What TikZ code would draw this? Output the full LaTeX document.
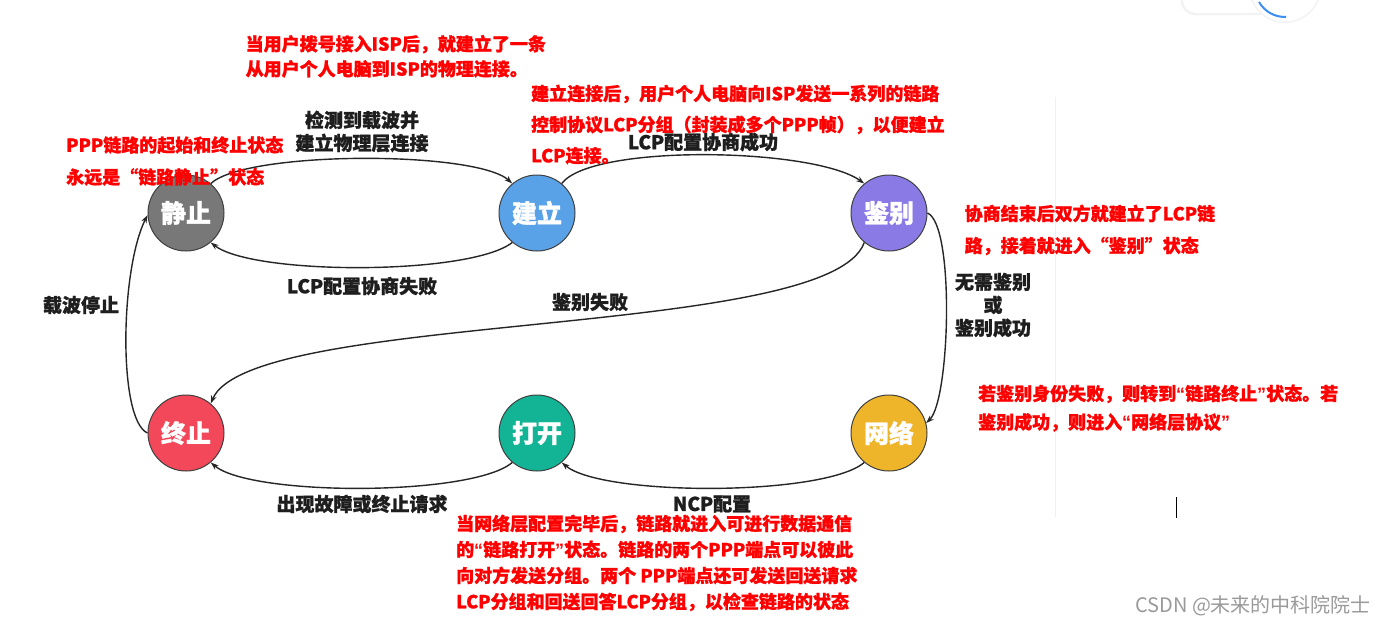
\documentclass[tikz,border=0pt]{standalone}
\usepackage{fontspec}
\setmainfont{Noto Sans CJK SC}[BoldFeatures={FakeBold=1.2}]
\newfontfamily\narrowq{Liberation Sans}
\newcommand{\myLq}{{\narrowq “}}
\newcommand{\myRq}{{\narrowq ”}}
\usetikzlibrary{arrows.meta}
\definecolor{cGray}{HTML}{787878}
\definecolor{cBlue}{HTML}{5AA2E8}
\definecolor{cPurple}{HTML}{8A7AE6}
\definecolor{cRed}{HTML}{F2485A}
\definecolor{cTeal}{HTML}{13B495}
\definecolor{cYellow}{HTML}{EFB52A}
\definecolor{annot}{HTML}{FF0000}
\definecolor{lbl}{HTML}{1E1E1E}
\definecolor{wmark}{HTML}{9A9A9A}
\definecolor{uiblue}{HTML}{3D8EF0}
\begin{document}
\begin{tikzpicture}[x=1pt,y=-1pt,
  state/.style={circle,minimum size=76pt,inner sep=0,draw=black!75,line width=1pt,
    text=white,font=\fontsize{25}{30}\selectfont\bfseries},
  trans/.style={draw=black!85,line width=1.4pt,-{Stealth[length=8pt,width=5.5pt]}},
  lab/.style={text=lbl,font=\fontsize{19}{23}\selectfont\bfseries,align=center,inner sep=0},
  note/.style={text=annot,font=\fontsize{18}{#1}\selectfont\bfseries,align=left,inner sep=0,anchor=north west},
]
\useasboundingbox (0,0) rectangle (1385,625);
\fill[white] (0,0) rectangle (1385,625);

% decorative UI remnants
\draw[black!6,line width=0.8pt] (1055,97) -- (1055,517);
\fill[black!5,rounded corners=14pt] (1181,-20) rectangle (1302,15);
\fill[white,rounded corners=13pt] (1183,-20) rectangle (1300,13);
\fill[black!5] (1285,-13) circle (36);
\fill[white] (1285,-13) circle (34.5);
\draw[uiblue,line width=2pt] (1285,-13) ++(150:30) arc[start angle=150,end angle=88,radius=30];
\draw[black,line width=0.8pt] (1176,497) -- (1176,518);

% states
\node[state,fill=cGray]   (jz) at (186,213) {静止};
\node[state,fill=cBlue]   (jl) at (537,213) {建立};
\node[state,fill=cPurple] (jb) at (889,213) {鉴别};
\node[state,fill=cRed]    (zz) at (186,433) {终止};
\node[state,fill=cTeal]   (dk) at (537,433) {打开};
\node[state,fill=cYellow] (wl) at (889,433) {网络};

% transitions
\draw[trans] (jz.50) .. controls +(36,-33) and +(-36,-33) .. (jl.130);
\draw[trans] (jl.-130) .. controls +(-42,33) and +(42,33) .. (jz.-50);
\draw[trans] (jl.50) .. controls +(30,-40) and +(-50,-36) .. (jb.130);
\draw[trans] (jb.-130) .. controls (830,340) and (250,310) .. (zz.50);
\draw[trans] (jb.0) .. controls (955,225) and (950,400) .. (wl.15);
\draw[trans] (wl.-130) .. controls +(-40,34) and +(40,34) .. (dk.-50);
\draw[trans] (dk.-130) .. controls +(-40,34) and +(40,34) .. (zz.-50);
\draw[trans] (zz.180) .. controls (118,420) and (120,270) .. (jz.183);

% transition labels
\node[lab] (l1) at (362,131.5) {检测到载波并\\建立物理层连接};
\node[lab] (l2) at (362,286) {LCP配置协商失败};
\node[lab] (l3) at (703,142) {LCP配置协商成功};
\node[lab] (l4) at (590,302) {鉴别失败};
\node[lab] (l5) at (993,305) {无需鉴别\\或\\鉴别成功};
\node[lab] (l6) at (712,504) {NCP配置};
\node[lab] (l7) at (362,504) {出现故障或终止请求};
\node[lab] (l8) at (81,305) {载波停止};

% annotations
\node[note=25] (n1) at (245.5,34.8) {当用户拨号接入ISP后，就建立了一条\\从用户个人电脑到ISP的物理连接。};
\node[note=31] (n2) at (531,84.5) {建立连接后，用户个人电脑向ISP发送一系列的链路\\控制协议LCP分组（封装成多个PPP帧），以便建立\\LCP连接。};
\node[note=32] (n3) at (66,136) {PPP链路的起始和终止状态\\永远是“链路静止”状态};
\node[note=32] (n4) at (964.5,204.5) {协商结束后双方就建立了LCP链\\路，接着就进入“鉴别”状态};
\node[note=28.5] (n5) at (978,384.5) {若鉴别身份失败，则转到\myLq 链路终止\myRq 状态。若\\鉴别成功，则进入\myLq 网络层协议\myRq};
\node[note=26] (n6) at (456,514.5) {当网络层配置完毕后，链路就进入可进行数据通信\\的\myLq 链路打开\myRq 状态。链路的两个PPP端点可以彼此\\向对方发送分组。两个 PPP端点还可发送回送请求\\LCP分组和回送回答LCP分组，以检查链路的状态};

% watermark
\node[anchor=west,inner sep=0,text=wmark,font=\fontsize{20}{24}\selectfont] (wm) at (1135,606) {CSDN @未来的中科院院士};
\end{tikzpicture}
\end{document}
